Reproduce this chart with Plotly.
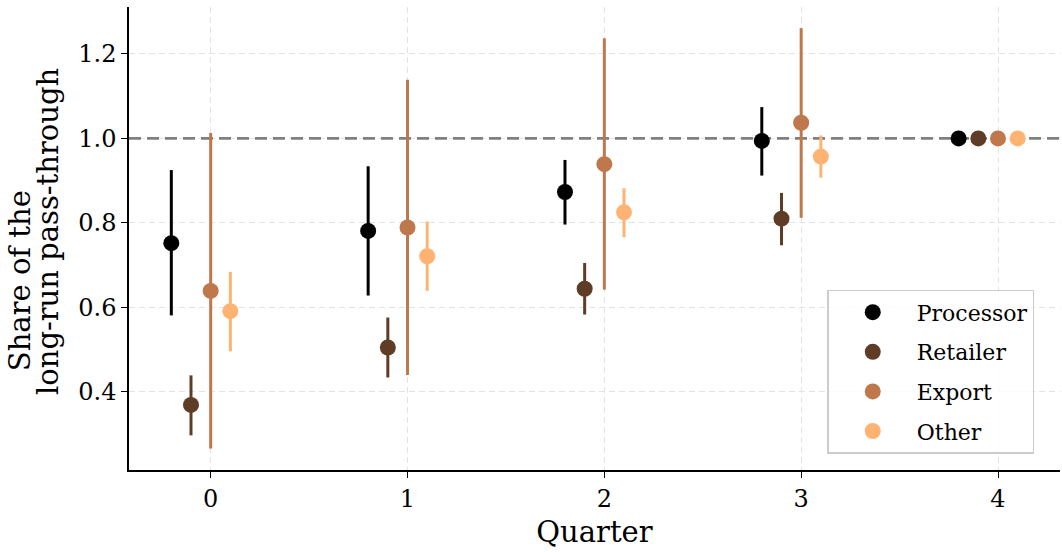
import plotly.graph_objects as go

quarters = [0, 1, 2, 3, 4]
series_names = ["Processor", "Retailer", "Export", "Other"]
offsets = [-0.2, -0.1, 0.0, 0.1]
colors = ["#000000", "#5f3c26", "#bf774c", "#ffb372"]

processor_mid = [0.752, 0.781, 0.873, 0.994, 1.0]
processor_lo = [0.581, 0.628, 0.796, 0.912, 1.0]
processor_hi = [0.925, 0.934, 0.949, 1.074, 1.0]

retailer_mid = [0.369, 0.505, 0.644, 0.810, 1.0]
retailer_lo = [0.297, 0.434, 0.583, 0.747, 1.0]
retailer_hi = [0.439, 0.576, 0.705, 0.871, 1.0]

export_mid = [0.639, 0.789, 0.939, 1.037, 1.0]
export_lo = [0.266, 0.440, 0.642, 0.812, 1.0]
export_hi = [1.013, 1.139, 1.237, 1.261, 1.0]

other_mid = [0.591, 0.721, 0.825, 0.957, 1.0]
other_lo = [0.496, 0.639, 0.766, 0.907, 1.0]
other_hi = [0.684, 0.803, 0.882, 1.007, 1.0]

reference_level = 1.0
x_range = [-0.415, 4.315]
y_range = [0.215, 1.311]
y_ticks = [0.4, 0.6, 0.8, 1.0, 1.2]
y_title_lines = ["Share of the", "long-run pass-through"]

mids = [processor_mid, retailer_mid, export_mid, other_mid]
los = [processor_lo, retailer_lo, export_lo, other_lo]
his = [processor_hi, retailer_hi, export_hi, other_hi]

FONT = "DejaVu Serif"

fig = go.Figure()

# horizontal reference line (drawn first so markers sit on top)
fig.add_trace(go.Scatter(
    x=x_range, y=[reference_level, reference_level], mode="lines",
    line=dict(color="#808080", width=2.6, dash="12px,6px"),
    showlegend=False, hoverinfo="skip", cliponaxis=False))

for name, off, col, m, lo, hi in zip(series_names, offsets, colors, mids, los, his):
    fig.add_trace(go.Scatter(
        x=[q + off for q in quarters], y=m, mode="markers", name=name,
        legendgroup=name,
        marker=dict(color=col, size=16, line=dict(width=0)),
        error_y=dict(type="data", symmetric=False,
                     array=[h - v for h, v in zip(hi, m)],
                     arrayminus=[v - l for v, l in zip(m, lo)],
                     color=col, thickness=3, width=0),
    ))

# two-line y-axis title
fig.add_annotation(text=y_title_lines[0], xref="paper", yref="paper",
                   x=-0.117, y=0.408, textangle=-90, showarrow=False,
                   xanchor="center", yanchor="middle",
                   font=dict(family=FONT, size=29, color="black"))
fig.add_annotation(text=y_title_lines[1], xref="paper", yref="paper",
                   x=-0.087, y=0.514, textangle=-90, showarrow=False,
                   xanchor="center", yanchor="middle",
                   font=dict(family=FONT, size=29, color="black"))

fig.update_layout(
    width=1062, height=552,
    margin=dict(l=129, r=2, t=7, b=82),
    paper_bgcolor="white", plot_bgcolor="white",
    font=dict(family=FONT, size=24, color="black"),
    showlegend=True,
    legend=dict(x=0.750, y=0.389, xanchor="left", yanchor="top",
                bgcolor="rgba(255,255,255,0.8)", bordercolor="#cccccc", borderwidth=1.5,
                font=dict(family=FONT, size=22), tracegroupgap=8, itemwidth=78),
    xaxis=dict(range=x_range, tickmode="array", tickvals=quarters,
               ticktext=[str(q) for q in quarters],
               showgrid=True, gridcolor="#e3e3e3", griddash="6px,4px", gridwidth=1,
               showline=True, linecolor="black", linewidth=1.5, mirror=False,
               ticks="outside", ticklen=6, tickwidth=1.2, tickcolor="black",
               zeroline=False,
               title=dict(text="Quarter", font=dict(family=FONT, size=29), standoff=10)),
    yaxis=dict(range=y_range, tickmode="array", tickvals=y_ticks,
               ticktext=[f"{v:.1f}" for v in y_ticks],
               showgrid=True, gridcolor="#e3e3e3", griddash="6px,4px", gridwidth=1,
               showline=True, linecolor="black", linewidth=1.5, mirror=False,
               ticks="outside", ticklen=6, tickwidth=1.2, tickcolor="black",
               zeroline=False),
)

fig.write_html("out.html")
